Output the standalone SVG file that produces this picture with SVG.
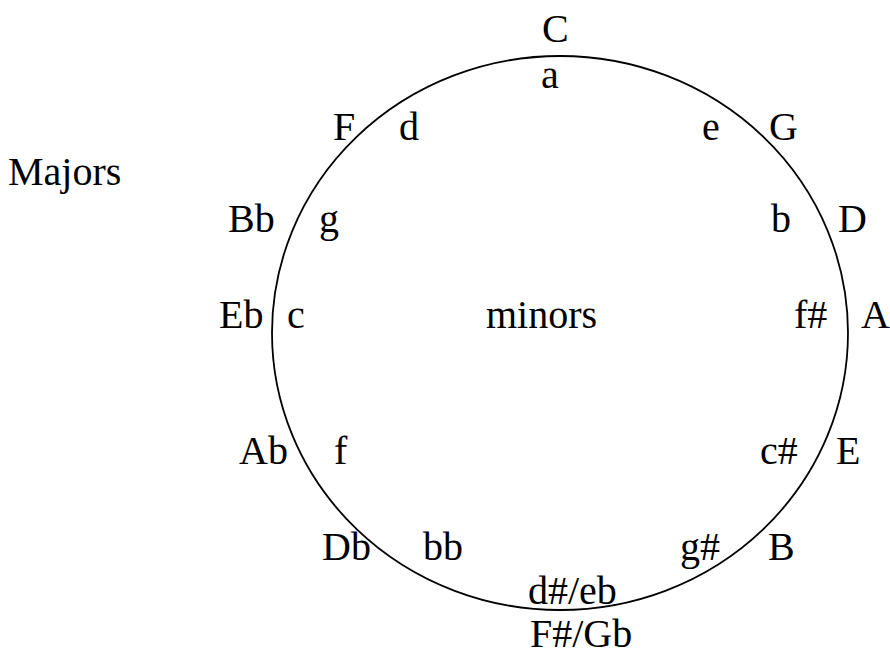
<svg xmlns="http://www.w3.org/2000/svg" width="890" height="656" viewBox="0 0 890 656">
<style>
text{font-family:'Liberation Serif','Times New Roman','DejaVu Serif',serif;font-size:40px;fill:#000}
.ring{fill:none;stroke:#000;stroke-width:1.8}
</style>
<rect width="890" height="656" fill="#fff"/>
<g id="connectors">
<ellipse class="ring" cx="560" cy="333" rx="288" ry="277"/>
</g>
<g id="majors-label"><text x="8" y="185">Majors</text></g>
<g id="minors-label"><text x="486" y="328">minors</text></g>
<g id="major-keys">
<text x="542" y="42">C</text>
<text x="769" y="140">G</text>
<text x="838" y="232">D</text>
<text x="861" y="328">A</text>
<text x="836" y="464">E</text>
<text x="768" y="560">B</text>
<text x="530" y="647">F#/Gb</text>
<text x="322" y="560">Db</text>
<text x="239" y="464">Ab</text>
<text x="219" y="328">Eb</text>
<text x="228" y="232">Bb</text>
<text x="333" y="140">F</text>
</g>
<g id="minor-keys">
<text x="541" y="88">a</text>
<text x="702" y="140">e</text>
<text x="771" y="232">b</text>
<text x="794" y="328">f#</text>
<text x="760" y="464">c#</text>
<text x="680" y="560">g#</text>
<text x="528" y="604">d#/eb</text>
<text x="423" y="560">bb</text>
<text x="334" y="464">f</text>
<text x="287" y="328">c</text>
<text x="319" y="232">g</text>
<text x="399" y="140">d</text>
</g>
</svg>
